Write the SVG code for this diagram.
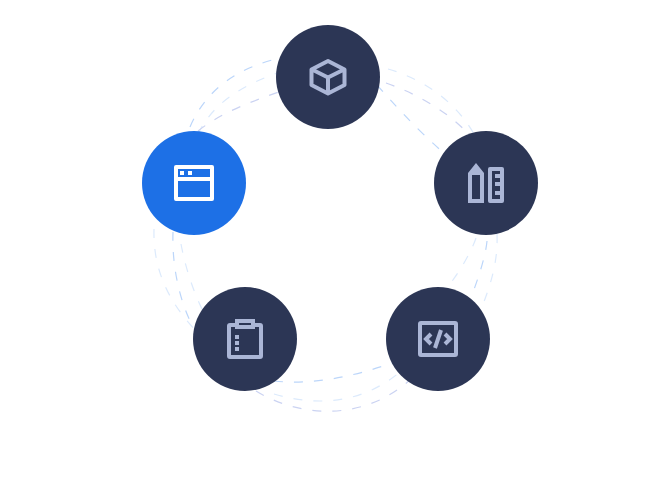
<svg xmlns="http://www.w3.org/2000/svg" width="650" height="480" viewBox="0 0 650 480">
<style>
.arc{fill:none;stroke-width:1.200;stroke-dasharray:9 11}
.b{stroke:#bcd6fa}.l{stroke:#dceafc}.p{stroke:#cbd3f2}
.n{fill:#2c3655}.i{fill:none;stroke:#abb6d6;stroke-width:4}.f{fill:#abb6d6}
.w{fill:none;stroke:#fff;stroke-width:4}
</style>
<rect width="650" height="480" fill="#fff"/>
<g id="connectors">
<path class="arc b" d="M190 127C205 92 235 66 290 56"/>
<path class="arc l" d="M198 134C212 105 240 84 290 69"/>
<path class="arc p" d="M198 131C222 112 250 102 290 88"/>
<path class="arc l" d="M388 69C420 78 455 100 474 134"/>
<path class="arc p" d="M386 83C415 93 450 112 472 138"/>
<path class="arc b" d="M377 85C395 105 415 128 445 154"/>
<path class="arc l" d="M476 238C472 250 462 268 450 284"/>
<path class="arc b" d="M487 241C486 252 482 268 472 295"/>
<path class="arc l" d="M497 234C498 260 492 282 480 312"/>
<path class="arc b" d="M274 381C310 385 350 378 395 362"/>
<path class="arc l" d="M274 394C315 406 360 405 400 372"/>
<path class="arc p" d="M256 391C300 418 365 422 412 378"/>
<path class="arc l" d="M154 229C153 265 165 300 200 335"/>
<path class="arc b" d="M173 232C172 260 177 295 192 325"/>
<path class="arc l" d="M181 244C185 265 192 290 205 315"/>
</g>
<g id="node-top">
<circle class="n" cx="328" cy="77" r="52"/>
<path class="i" stroke-linejoin="round" d="M328 61L344.500 69.500V85L328 93.500L311.500 85V69.500Z M312 69.500L328 77.500L344 69.500 M328 77.500V93"/>
</g>
<g id="node-right">
<circle class="n" cx="486" cy="183" r="52"/>
<path class="f" fill-rule="evenodd" d="M468 173L476 163L484 173V203H468Z M472 175V199H480V175Z"/>
<path class="f" fill-rule="evenodd" d="M490 167H502Q504 167 504 169V201Q504 203 502 203H490Q488 203 488 201V169Q488 167 490 167Z M492 171V199H500V195H495V191H500V186H495V182H500V178H495V174H500V171Z"/>
</g>
<g id="node-left">
<circle cx="194" cy="183" r="52" fill="#1d70e6"/>
<path class="w" stroke-linejoin="round" d="M176 167H212V199H176Z M176 179H212"/>
<rect x="180" y="171" width="4" height="4" fill="#fff"/>
<rect x="188" y="171" width="4" height="4" fill="#fff"/>
</g>
<g id="node-bottom-left">
<circle class="n" cx="245" cy="339" r="52"/>
<rect class="i" x="229" y="325" width="32" height="32" rx="1"/>
<rect class="n" x="237" y="321" width="16" height="6"/>
<rect class="i" x="237" y="321" width="16" height="6"/>
<rect class="f" x="235" y="335" width="4" height="4"/>
<rect class="f" x="235" y="341" width="4" height="4"/>
<rect class="f" x="235" y="347" width="4" height="4"/>
</g>
<g id="node-bottom-right">
<circle class="n" cx="438" cy="339" r="52"/>
<rect class="i" x="420" y="323" width="36" height="32" rx="1"/>
<path class="i" d="M431 334L426 339L431 344 M445 334L450 339L445 344 M441 330L435 348"/>
</g>
</svg>
